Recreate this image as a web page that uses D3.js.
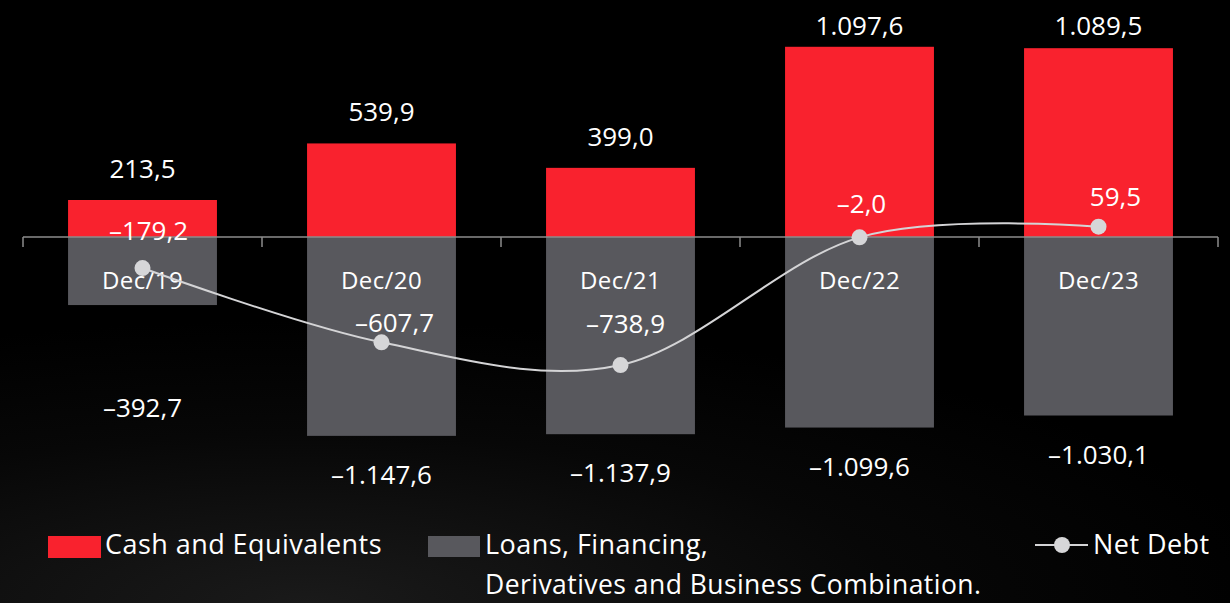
<!DOCTYPE html>
<html>
<head>
  <meta charset="utf-8">
  <title>Net Debt</title>
  <script src="https://d3js.org/d3.v7.min.js"></script>
  <style>
    html, body { margin: 0; padding: 0; background: #000; }
    svg text { font-family: "Open Sans", "Noto Sans", sans-serif; fill: #fff; }
    .legenda text { font-size: 27px; letter-spacing: 0.45px; }
  </style>
</head>
<body>
<div id="chart"></div>
<script>
  "use strict"

  // dados
  var categorias = ["Dec/19", "Dec/20", "Dec/21", "Dec/22", "Dec/23"];
  var caixa = [213.5, 539.9, 399.0, 1097.6, 1089.5];
  var emprestimos = [-392.7, -1147.6, -1137.9, -1099.6, -1030.1];
  var dividaLiquida = [-179.2, -607.7, -738.9, -2.0, 59.5];

  // pequenos ajustes dos rotulos da linha (dx, dy em px)
  var rotuloLinhaDx = [6, 13, 5, 2, 17];
  var rotuloLinhaDy = [-28, -10, -32, -24, -21];

  var larguraSVG = 1230, alturaSVG = 603;

  var ptBR = d3.formatLocale({decimal: ",", thousands: ".", grouping: [3], currency: ["", ""], minus: "\u2013"});
  var fmt = ptBR.format(",.1f");

  var svg = d3.select("#chart").append("svg")
      .attr("width", larguraSVG)
      .attr("height", alturaSVG);

  // fundo escuro com leve textura embaixo
  var defs = svg.append("defs");
  var grad = defs.append("radialGradient").attr("id", "fundo")
      .attr("cx", "0.25").attr("cy", "1").attr("r", "0.8");
  grad.append("stop").attr("offset", "0").attr("stop-color", "#1a1a1a");
  grad.append("stop").attr("offset", "0.6").attr("stop-color", "#070707");
  grad.append("stop").attr("offset", "1").attr("stop-color", "#000");
  svg.append("rect").attr("width", larguraSVG).attr("height", alturaSVG).attr("fill", "#000");
  svg.append("rect").attr("y", 250).attr("width", larguraSVG).attr("height", alturaSVG - 250).attr("fill", "url(#fundo)");

  var x = d3.scaleBand()
      .domain(categorias)
      .range([23, 1218])
      .paddingInner(0.377)
      .paddingOuter(0.1885);

  var zeroY = 237, k = 0.1733;
  var y = d3.scaleLinear()
      .domain([-1500, 1300])
      .range([zeroY + 1500 * k, zeroY - 1300 * k]);

  var dadosCaixa = categorias.map((c, i) => ({c: c, v: caixa[i]}));
  var dadosEmp = categorias.map((c, i) => ({c: c, v: emprestimos[i]}));
  var dadosLinha = categorias.map((c, i) => ({c: c, v: dividaLiquida[i], i: i}));

  // barras de caixa
  svg.append("g").selectAll("rect")
      .data(dadosCaixa).enter().append("rect")
      .attr("x", d => x(d.c))
      .attr("y", d => y(d.v))
      .attr("width", x.bandwidth())
      .attr("height", d => y(0) - y(d.v))
      .attr("fill", "#f9222e");

  // barras de emprestimos
  svg.append("g").selectAll("rect")
      .data(dadosEmp).enter().append("rect")
      .attr("x", d => x(d.c))
      .attr("y", y(0))
      .attr("width", x.bandwidth())
      .attr("height", d => y(d.v) - y(0))
      .attr("fill", "#58585d");

  // eixo x na linha do zero
  var eixo = svg.append("g")
      .attr("transform", "translate(0," + y(0) + ")")
      .call(d3.axisBottom(x).tickSize(0).tickFormat(""));
  eixo.select(".domain").remove();
  eixo.append("line")
      .attr("x1", 23).attr("x2", 1218)
      .attr("stroke", "#8c8c8c").attr("stroke-width", 1.5);
  var limites = x.range().concat(categorias.slice(1).map(c => x(c) - x.step() * x.paddingInner() / 2));
  eixo.selectAll(".sep").data(limites).enter().append("line")
      .attr("class", "sep")
      .attr("x1", d => d).attr("x2", d => d)
      .attr("y1", 0).attr("y2", 10)
      .attr("stroke", "#8c8c8c").attr("stroke-width", 1.5);

  // rotulos das categorias
  svg.append("g").selectAll("text")
      .data(categorias).enter().append("text")
      .attr("x", d => x(d) + x.bandwidth() / 2)
      .attr("y", y(0) + 52)
      .attr("text-anchor", "middle")
      .style("font-size", "24px")
      .style("letter-spacing", "0.4px")
      .text(d => d);

  // valores das barras
  svg.append("g").selectAll("text")
      .data(dadosCaixa).enter().append("text")
      .attr("x", d => x(d.c) + x.bandwidth() / 2)
      .attr("y", d => Math.max(y(d.v) - 22, 35))
      .attr("text-anchor", "middle")
      .style("font-size", "26px")
      .text(d => fmt(d.v));

  svg.append("g").selectAll("text")
      .data(dadosEmp).enter().append("text")
      .attr("x", d => x(d.c) + x.bandwidth() / 2)
      .attr("y", d => Math.max(y(d.v) + 48, 417))
      .attr("text-anchor", "middle")
      .style("font-size", "26px")
      .text(d => fmt(d.v));

  // linha da divida liquida
  var linha = d3.line()
      .x(d => x(d.c) + x.bandwidth() / 2)
      .y(d => y(d.v))
      .curve(d3.curveCatmullRom.alpha(0));

  svg.append("path")
      .datum(dadosLinha)
      .attr("d", linha)
      .attr("fill", "none")
      .attr("stroke", "#d4d4d6")
      .attr("stroke-width", 2);

  svg.append("g").selectAll("circle")
      .data(dadosLinha).enter().append("circle")
      .attr("cx", d => x(d.c) + x.bandwidth() / 2)
      .attr("cy", d => y(d.v))
      .attr("r", 8)
      .attr("fill", "#d6d6d8");

  svg.append("g").selectAll("text")
      .data(dadosLinha).enter().append("text")
      .attr("x", d => x(d.c) + x.bandwidth() / 2 + rotuloLinhaDx[d.i])
      .attr("y", d => y(d.v) + rotuloLinhaDy[d.i])
      .attr("text-anchor", "middle")
      .style("font-size", "26px")
      .text(d => fmt(d.v));

  // legenda
  var leg = svg.append("g").attr("class", "legenda");
  leg.append("rect").attr("x", 48).attr("y", 536).attr("width", 53).attr("height", 22).attr("fill", "#f9222e");
  leg.append("text").attr("x", 105).attr("y", 554).text("Cash and Equivalents");
  leg.append("rect").attr("x", 428).attr("y", 536).attr("width", 52).attr("height", 21).attr("fill", "#58585d");
  leg.append("text").attr("x", 485).attr("y", 554).text("Loans, Financing,");
  leg.append("text").attr("x", 485).attr("y", 594).style("font-size", "26.5px").text("Derivatives and Business Combination.");
  leg.append("line").attr("x1", 1035).attr("x2", 1088).attr("y1", 545).attr("y2", 545)
      .attr("stroke", "#d4d4d6").attr("stroke-width", 2);
  leg.append("circle").attr("cx", 1062).attr("cy", 545).attr("r", 8).attr("fill", "#d6d6d8");
  leg.append("text").attr("x", 1093).attr("y", 554).text("Net Debt");
</script>
</body>
</html>
